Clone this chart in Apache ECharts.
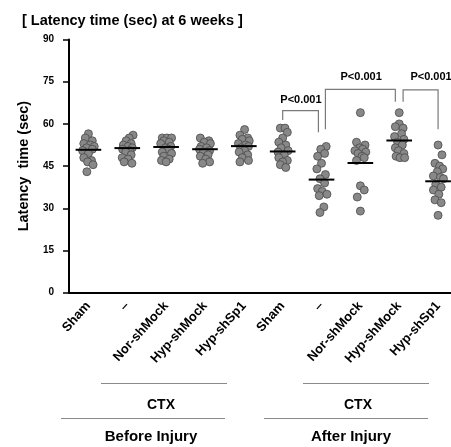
<!DOCTYPE html>
<html><head><meta charset="utf-8">
<script src="https://cdn.jsdelivr.net/npm/echarts@6/dist/echarts.min.js"></script>
<style>html,body{margin:0;padding:0;background:#fff}#c{width:451px;height:447px}</style>
</head><body><div id="c"></div>
<script>
// ---- data ----
const categories = ['Sham', '\u2013', 'Nor-shMock', 'Hyp-shMock', 'Hyp-shSp1', 'Sham', '\u2013', 'Nor-shMock', 'Hyp-shMock', 'Hyp-shSp1'];
const yTicks = [0, 15, 30, 45, 60, 75, 90];

const beforeSham      = [56.5, 55, 54, 53, 52.5, 52, 51.5, 51, 50.5, 49.5, 48, 47, 46.5, 45.5, 43];
const beforeCtx       = [56, 55, 54, 53, 52.5, 52, 51.5, 51, 50.5, 50, 49, 48, 47.5, 46.5, 46];
const beforeNorMock   = [55, 55, 55, 54, 53.5, 53, 52, 51.5, 51, 50, 49.5, 48.5, 47.5, 47, 46.5];
const beforeHypMock   = [55, 54, 53.5, 53, 52, 51.5, 51, 50.5, 50, 49, 48.5, 47.5, 46.5, 46];
const beforeHypSp1    = [58, 56, 55, 54.5, 54, 53, 52.5, 52, 51.5, 50.5, 50, 49, 48, 47, 46.5];
const afterSham       = [58.5, 58.5, 57, 55, 53.5, 52.5, 51.5, 50.5, 50, 49, 48, 47, 46.5, 45.5, 44.5];
const afterCtx        = [52, 51, 49.5, 48.5, 46, 44, 42, 40.5, 39, 37, 36, 35, 34.5, 30.5, 28.5];
const afterNorMock    = [64, 53.5, 52.5, 51.5, 51, 50.5, 50, 49.5, 48.5, 48, 47, 38, 36.5, 34, 29];
const afterHypMock    = [64, 60, 59, 58.5, 56.5, 55.5, 54.5, 53.5, 52.5, 51.5, 50.5, 49.5, 48.5, 48, 48];
const afterHypSp1     = [52.5, 49, 46, 45, 44, 43, 41.5, 41, 40.5, 38.5, 37.5, 36.5, 35, 33, 32, 27.5];

// horizontal spread of the dots (category units)
const jitterBeforeSham    = [0.0, -0.08, 0.1, -0.12, 0.05, 0.15, -0.05, 0.1, -0.15, 0.0, -0.12, 0.08, -0.02, 0.12, -0.04];
const jitterBeforeCtx     = [0.15, 0.05, -0.03, 0.1, -0.1, 0.02, 0.13, -0.12, 0.06, -0.04, 0.1, -0.13, 0.02, -0.08, 0.12];
const jitterBeforeNorMock = [-0.1, 0.02, 0.14, -0.06, 0.08, -0.14, 0.12, -0.02, 0.06, -0.1, 0.14, -0.06, 0.08, -0.12, 0.0];
const jitterBeforeHypMock = [-0.12, 0.1, -0.02, 0.14, -0.1, 0.04, -0.14, 0.12, -0.04, 0.08, -0.12, 0.02, 0.12, -0.06];
const jitterBeforeHypSp1  = [0.02, -0.1, 0.1, -0.04, 0.14, -0.14, 0.04, 0.12, -0.08, 0.02, -0.12, 0.1, -0.04, 0.12, -0.1];
const jitterAfterSham     = [-0.06, 0.06, 0.12, 0.0, -0.1, 0.08, -0.04, 0.14, -0.12, 0.04, -0.1, 0.12, 0.0, -0.06, 0.08];
const jitterAfterCtx      = [0.12, -0.02, 0.08, -0.1, 0.0, -0.12, 0.1, -0.04, 0.08, -0.1, 0.02, 0.14, -0.06, 0.06, -0.04];
const jitterAfterNorMock  = [0.0, -0.1, 0.12, -0.02, 0.06, -0.14, 0.14, -0.06, 0.04, 0.1, -0.1, 0.0, 0.1, -0.08, 0.0];
const jitterAfterHypMock  = [0.0, 0.0, -0.1, 0.1, 0.06, -0.12, 0.12, -0.04, 0.08, -0.1, -0.02, 0.12, -0.08, 0.02, 0.14];
const jitterAfterHypSp1   = [0.0, 0.1, -0.08, 0.04, 0.12, -0.02, -0.12, 0.06, 0.14, -0.06, 0.08, -0.12, 0.02, -0.08, 0.08, 0.0];

const groupMeans = [50.8, 51.4, 51.8, 51.0, 52.1, 50.2, 40.2, 46.1, 54.1, 39.6];

// brackets: [leftX, rightX, topY, leftEndY, rightEndY, labelX, labelY, text]
const comparisons = [
  [5.0, 5.92, 64.7, 61.4, 57.0, 5.47, 68.6, 'P<0.001'],
  [6.1, 7.9, 72.3, 58.1, 67.9, 7.02, 76.7, 'P<0.001'],
  [8.1, 9.0, 72.1, 67.9, 58.1, 8.82, 76.7, 'P<0.001']
];

const groupValues = [beforeSham, beforeCtx, beforeNorMock, beforeHypMock, beforeHypSp1,
                     afterSham, afterCtx, afterNorMock, afterHypMock, afterHypSp1];
const groupJitter = [jitterBeforeSham, jitterBeforeCtx, jitterBeforeNorMock, jitterBeforeHypMock, jitterBeforeHypSp1,
                     jitterAfterSham, jitterAfterCtx, jitterAfterNorMock, jitterAfterHypMock, jitterAfterHypSp1];

const points = [];
groupValues.forEach((vals, g) => vals.forEach((v, i) => points.push([g + (groupJitter[g][i] || 0), v])));

const FONT = '"Liberation Sans", Arial, sans-serif';
const NARROW = '"Liberation Sans Narrow", "Liberation Sans", Arial, sans-serif';

const chart = echarts.init(document.getElementById('c'), null, {renderer: 'canvas'});
chart.setOption({
  animation: false,
  backgroundColor: '#fff',
  title: {
    text: '[ Latency time (sec) at 6 weeks ]',
    left: 17, top: 8,
    textStyle: {fontFamily: FONT, fontSize: 14.5, fontWeight: 'bold', color: '#000'}
  },
  grid: {left: 69, right: -6.5, top: 39.5, bottom: 154.3, containLabel: false, outerBoundsMode: 'none'},
  xAxis: [{
    type: 'category',
    data: categories,
    boundaryGap: true,
    axisLine: {lineStyle: {color: '#000', width: 2}},
    axisTick: {alignWithLabel: true, length: 5, lineStyle: {color: '#000', width: 1.5}},
    axisLabel: {rotate: 48, interval: 0, margin: 11, fontFamily: FONT, fontSize: 13, fontWeight: 'bold', color: '#000'}
  }, {
    type: 'value', min: -0.5, max: 9.5, show: false
  }],
  yAxis: {
    type: 'value', min: yTicks[0], max: yTicks[yTicks.length - 1], interval: 15,
    name: 'Latency  time (sec)', nameLocation: 'middle', nameGap: 34,
    nameTextStyle: {fontFamily: FONT, fontSize: 14.5, fontWeight: 'bold', color: '#000'},
    axisLine: {show: true, onZero: false, lineStyle: {color: '#000', width: 2}},
    axisTick: {show: true, length: 6, lineStyle: {color: '#000', width: 1.5}},
    axisLabel: {margin: 15, fontFamily: NARROW, fontSize: 10, fontWeight: 'bold', color: '#000'},
    splitLine: {show: false}
  },
  series: [{
    type: 'scatter',
    xAxisIndex: 1,
    data: points,
    symbolSize: 8,
    itemStyle: {color: '#888888', borderColor: '#4a4a4a', borderWidth: 0.8, opacity: 1},
    z: 2
  }, {
    type: 'custom',
    xAxisIndex: 1,
    data: groupMeans.map((m, i) => [i, m]),
    renderItem: (params, api) => {
      const i = api.value(0), m = api.value(1);
      const a = api.coord([i - 0.33, m]), b = api.coord([i + 0.33, m]);
      return {type: 'line', shape: {x1: a[0], y1: a[1], x2: b[0], y2: b[1]}, style: {stroke: '#000', lineWidth: 2}};
    },
    z: 5
  }, {
    type: 'custom',
    xAxisIndex: 1,
    data: comparisons.map(c => c.slice(0, 7)),
    renderItem: (params, api) => {
      const c = comparisons[params.dataIndex];
      const lt = api.coord([c[0], c[2]]), rt = api.coord([c[1], c[2]]);
      const lb = api.coord([c[0], c[3]]), rb = api.coord([c[1], c[4]]);
      const lp = api.coord([c[5], c[6]]);
      return {type: 'group', children: [
        {type: 'polyline', shape: {points: [lb, lt, rt, rb]}, style: {stroke: '#7a7a7a', lineWidth: 1.2, fill: null}},
        {type: 'text', x: lp[0], y: lp[1], style: {text: c[7], fontFamily: FONT, fontSize: 11, fontWeight: 'bold', fill: '#000', align: 'center', verticalAlign: 'middle'}}
      ]};
    },
    z: 4
  }],
  graphic: [
    {type: 'line', shape: {x1: 101, y1: 383.5, x2: 227, y2: 383.5}, style: {stroke: '#8a8a8a', lineWidth: 1}},
    {type: 'text', x: 161, y: 405, style: {text: 'CTX', fontFamily: FONT, fontSize: 14, fontWeight: 'bold', fill: '#000', align: 'center', verticalAlign: 'middle'}},
    {type: 'line', shape: {x1: 61, y1: 418.5, x2: 225, y2: 418.5}, style: {stroke: '#8a8a8a', lineWidth: 1}},
    {type: 'text', x: 151, y: 437, style: {text: 'Before Injury', fontFamily: FONT, fontSize: 15, fontWeight: 'bold', fill: '#000', align: 'center', verticalAlign: 'middle'}},
    {type: 'line', shape: {x1: 303, y1: 383.5, x2: 429, y2: 383.5}, style: {stroke: '#8a8a8a', lineWidth: 1}},
    {type: 'text', x: 358, y: 405, style: {text: 'CTX', fontFamily: FONT, fontSize: 14, fontWeight: 'bold', fill: '#000', align: 'center', verticalAlign: 'middle'}},
    {type: 'line', shape: {x1: 264, y1: 418.5, x2: 428, y2: 418.5}, style: {stroke: '#8a8a8a', lineWidth: 1}},
    {type: 'text', x: 351, y: 437, style: {text: 'After Injury', fontFamily: FONT, fontSize: 15, fontWeight: 'bold', fill: '#000', align: 'center', verticalAlign: 'middle'}}
  ]
});
</script></body></html>
